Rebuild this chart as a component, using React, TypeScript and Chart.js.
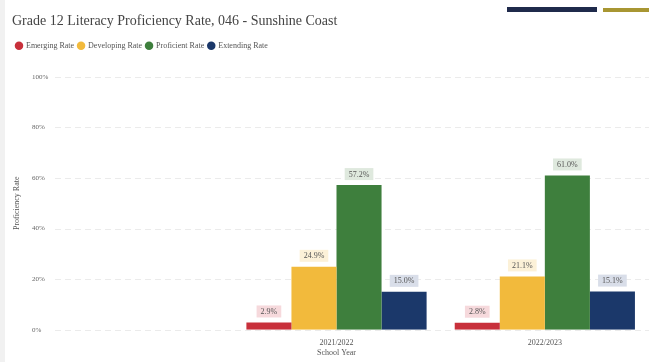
import React, { useEffect, useRef } from "react";
import { Chart, registerables } from "chart.js";

Chart.register(...registerables);

const categories = ["", "2021/2022", "2022/2023"];
const emerging = [null, 2.9, 2.8];
const developing = [null, 24.9, 21.1];
const proficient = [null, 57.2, 61.0];
const extending = [null, 15.0, 15.1];
const yTicks = [0, 20, 40, 60, 80, 100];

const FONT = "'Liberation Serif', 'Times New Roman', serif";

const seriesDefs = [
  { label: "Emerging Rate", data: emerging, color: "#c8303b", tint: "#f6d9dc" },
  { label: "Developing Rate", data: developing, color: "#f2ba3c", tint: "#fcf1d8" },
  { label: "Proficient Rate", data: proficient, color: "#3e7f3d", tint: "#dfe9de" },
  { label: "Extending Rate", data: extending, color: "#1b386a", tint: "#d9dee9" },
];

const legendSpacer = {
  id: "legendSpacer",
  beforeInit(chart: any) {
    const lg = chart.legend;
    if (!lg) return;
    const orig = lg.fit;
    lg.fit = function () {
      orig.call(this);
      this.height += 17;
    };
  },
};

const gridPlugin = {
  id: "customGrid",
  beforeDatasetsDraw(chart: any) {
    const ctx = chart.ctx;
    const y = chart.scales.y;
    ctx.save();
    ctx.strokeStyle = "rgba(0,0,0,0.08)";
    ctx.lineWidth = 1;
    ctx.setLineDash([6, 4]);
    yTicks.forEach((v) => {
      const py = Math.round(y.getPixelForValue(v)) + 0.5;
      ctx.beginPath();
      ctx.moveTo(55, py);
      ctx.lineTo(chart.chartArea.right, py);
      ctx.stroke();
    });
    ctx.restore();
  },
};

const labelPlugin = {
  id: "valueLabels",
  afterDatasetsDraw(chart: any) {
    const ctx = chart.ctx;
    ctx.save();
    ctx.font = `8px ${FONT}`;
    ctx.textAlign = "center";
    ctx.textBaseline = "middle";
    chart.data.datasets.forEach((ds: any, di: number) => {
      const meta = chart.getDatasetMeta(di);
      meta.data.forEach((el: any, i: number) => {
        const v = ds.data[i];
        if (v === null || v === undefined) return;
        const text = v.toFixed(1) + "%";
        const w = ctx.measureText(text).width + 8;
        const h = 12;
        const cx = el.x;
        const cy = el.y - 11;
        ctx.fillStyle = seriesDefs[di].tint;
        ctx.fillRect(cx - w / 2, cy - h / 2, w, h);
        ctx.fillStyle = "#555";
        ctx.fillText(text, cx, cy + 0.5);
      });
    });
    ctx.restore();
  },
};

export default function App() {
  const ref = useRef<HTMLCanvasElement | null>(null);
  useEffect(() => {
    document.body.style.margin = "0";
    const chart = new Chart(ref.current!, {
      type: "bar",
      data: {
        labels: categories,
        datasets: seriesDefs.map((s) => ({
          label: s.label,
          data: s.data as any,
          backgroundColor: s.color,
          borderWidth: 0,
          categoryPercentage: 0.865,
          barPercentage: 1.0,
        })),
      },
      options: {
        animation: false,
        responsive: false,
        layout: { padding: { left: 12, right: 0, top: 9, bottom: 4 } },
        plugins: {
          title: {
            display: true,
            text: "Grade 12 Literacy Proficiency Rate, 046 - Sunshine Coast",
            align: "start",
            color: "#444",
            font: { family: FONT, size: 14, weight: "normal" },
            padding: { top: 4, bottom: 8 },
          },
          legend: {
            display: true,
            position: "top",
            align: "start",
            labels: {
              usePointStyle: true,
              pointStyle: "circle",
              boxWidth: 6,
              boxHeight: 6,
              padding: 4,
              color: "#555",
              font: { family: FONT, size: 8 },
            },
          },
          tooltip: { enabled: false },
        },
        scales: {
          x: {
            grid: { display: false },
            border: { display: false },
            ticks: { color: "#555", font: { family: FONT, size: 8 }, padding: 0 },
            title: {
              display: true,
              text: "School Year",
              color: "#555",
              font: { family: FONT, size: 8 },
              padding: { top: 1, bottom: 0 },
            },
          },
          y: {
            min: 0,
            max: 100,
            afterBuildTicks(axis: any) {
              axis.ticks = yTicks.map((v) => ({ value: v }));
            },
            afterFit(axis: any) {
              axis.width = 12;
            },
            grid: { display: false },
            border: { display: false },
            ticks: {
              mirror: true,
              color: "#666",
              font: { family: FONT, size: 7 },
              padding: 8,
              callback: (v: any) => v + "%",
            },
            title: {
              display: true,
              text: "Proficiency Rate",
              color: "#555",
              font: { family: FONT, size: 8 },
              padding: { top: 0, bottom: 2 },
            },
          },
        },
      },
      plugins: [legendSpacer, gridPlugin, labelPlugin],
    });
    return () => chart.destroy();
  }, []);
  return (
    <div style={{ position: "relative", width: 649, height: 362, background: "#fff" }}>
      <canvas ref={ref} width={649} height={362} />
      <div style={{ position: "absolute", left: 507, top: 7, width: 90, height: 5, background: "#1f2a4b" }} />
      <div style={{ position: "absolute", left: 603, top: 8, width: 46, height: 4, background: "#a89632" }} />
      <div style={{ position: "absolute", left: 0, top: 0, width: 5, height: 362, background: "#f1f1f1" }} />
    </div>
  );
}
